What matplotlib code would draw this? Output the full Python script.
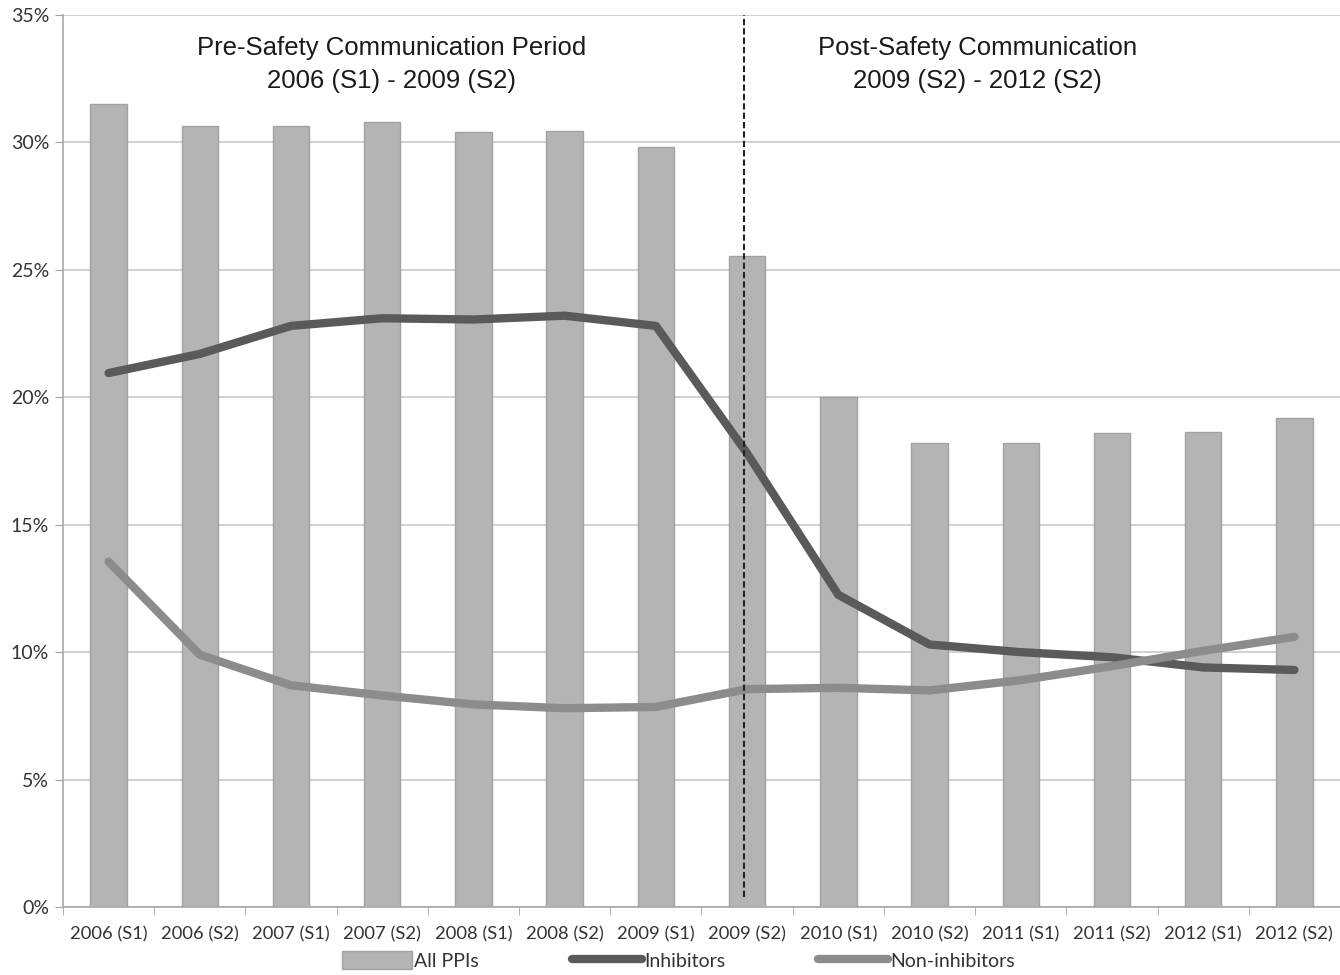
import numpy as np
import matplotlib.pyplot as plt

periods = ['2006 (S1)', '2006 (S2)', '2007 (S1)', '2007 (S2)', '2008 (S1)', '2008 (S2)',
           '2009 (S1)', '2009 (S2)', '2010 (S1)', '2010 (S2)', '2011 (S1)', '2011 (S2)',
           '2012 (S1)', '2012 (S2)']
all_ppis = [31.5, 30.65, 30.65, 30.8, 30.4, 30.45, 29.8, 25.55, 20.0, 18.2, 18.2, 18.6, 18.65, 19.2]
inhibitors = [20.95, 21.7, 22.8, 23.1, 23.05, 23.2, 22.8, 17.8, 12.25, 10.3, 10.0, 9.8, 9.4, 9.3]
non_inhibitors = [13.55, 9.9, 8.7, 8.3, 7.95, 7.8, 7.85, 8.55, 8.6, 8.5, 8.9, 9.45, 10.05, 10.6]

fig = plt.figure(figsize=(13.4, 9.75), dpi=100)
ax = fig.add_axes([0.047, 0.0697, 0.953, 0.915])

x = np.arange(len(periods))
bars = ax.bar(x, all_ppis, width=0.4, color='#b4b4b4', edgecolor='#a2a2a2', linewidth=1,
              label='All PPIs', zorder=2)
l1, = ax.plot(x, inhibitors, color='#5a5a5a', lw=6, solid_capstyle='round',
              solid_joinstyle='round', label='Inhibitors', zorder=3)
l2, = ax.plot(x, non_inhibitors, color='#8c8c8c', lw=6, solid_capstyle='round',
              solid_joinstyle='round', label='Non-inhibitors', zorder=3)

# safety communication marker
ax.plot([6.97, 6.97], [0.4, 35], color='#222222', lw=1.5, ls=(0, (3, 1.5)), zorder=4)

ax.text(3.1, 33.05, 'Pre-Safety Communication Period\n2006 (S1) - 2009 (S2)',
        ha='center', va='center', fontsize=18.5, family='Liberation Sans',
        linespacing=1.45, color='#1a1a1a')
ax.text(9.53, 33.05, 'Post-Safety Communication\n2009 (S2) - 2012 (S2)',
        ha='center', va='center', fontsize=18.5, family='Liberation Sans',
        linespacing=1.45, color='#1a1a1a')

ax.set_xlim(-0.5, len(periods) - 0.5)
ax.set_ylim(0, 35)
ax.set_yticks(range(0, 36, 5))
ax.set_yticklabels([f'{v}%' for v in range(0, 36, 5)])
ax.yaxis.grid(True, color='#c8c8c8', lw=1.2)
ax.set_axisbelow(True)

ax.set_xticks(x)
ax.set_xticklabels(periods)
ax.set_xticks(np.arange(-0.5, len(periods), 1), minor=True)
ax.tick_params(axis='x', which='major', length=0, pad=14)
ax.tick_params(axis='x', which='minor', length=6, color='#a0a0a0')
ax.tick_params(axis='y', length=6, color='#a0a0a0', pad=4)
for lab in ax.get_xticklabels():
    lab.set_family('Lato')
    lab.set_fontsize(13.2)
    lab.set_color('#333333')
for lab in ax.get_yticklabels():
    lab.set_family('Lato')
    lab.set_fontsize(14)
    lab.set_color('#333333')

for s in ['top', 'right']:
    ax.spines[s].set_visible(False)
ax.spines['left'].set_color('#a8a8a8')
ax.spines['bottom'].set_color('#a8a8a8')
ax.spines['left'].set_linewidth(1.2)
ax.spines['bottom'].set_linewidth(1.2)

leg = ax.legend([bars, l1, l2], ['All PPIs', 'Inhibitors', 'Non-inhibitors'],
                loc='center', bbox_to_anchor=(0.482, -0.06), ncol=3, frameon=False,
                prop={'family': 'Lato', 'size': 14}, handlelength=3.6,
                handleheight=1.0, handletextpad=0.1, columnspacing=4.8,
                borderpad=0)
for t in leg.get_texts():
    t.set_color('#333333')

fig.savefig('out.png', dpi=100)
